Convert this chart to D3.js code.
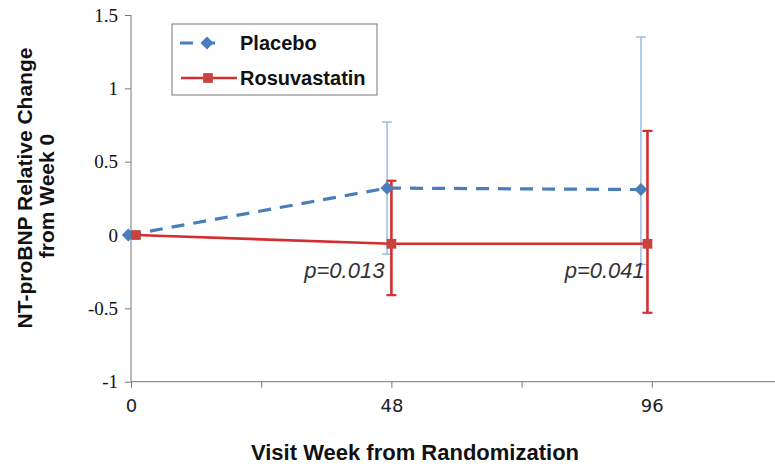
<!DOCTYPE html>
<html>
<head>
<meta charset="utf-8">
<script src="https://cdn.jsdelivr.net/npm/d3@7"></script>
<style>
  html, body { margin: 0; padding: 0; background: #fff; }
  svg { display: block; }
</style>
</head>
<body>
<svg id="chart" width="775" height="468"></svg>
<script>
// ---- data ----
const seriesNames = ["Placebo", "Rosuvastatin"];
const placeboWeeks = [-0.5, 47.2, 94.0];
const placeboMean = [0, 0.32, 0.31];
const placeboUpper = [0, 0.77, 1.35];
const placeboLower = [0, -0.13, -0.20];
const rosuWeeks = [0.9, 48.0, 95.2];
const rosuMean = [0, -0.06, -0.06];
const rosuUpper = [0, 0.37, 0.71];
const rosuLower = [0, -0.41, -0.53];
const xTickValues = [0, 24, 48, 72, 96, 120];
const xTickLabels = ["0", "", "48", "", "96", ""];
const yTickValues = [-1, -0.5, 0, 0.5, 1, 1.5];
const yTickLabels = ["-1", "-0.5", "0", "0.5", "1", "1.5"];
const pLabels = ["p=0.013", "p=0.041"];
const pWeeks = [48, 96];

const blue = "#4a7ebb", blueErr = "#8db3e2", red = "#d2302f";

const svg = d3.select("#chart");
const x = d3.scaleLinear().domain([0, 120]).range([131, 782]);
const y = d3.scaleLinear().domain([-1, 1.5]).range([381.7, 15]);

// axes
const xAxis = d3.axisBottom(x).tickValues(xTickValues).tickSize(6)
  .tickFormat((d, i) => xTickLabels[i]);
const gx = svg.append("g").attr("transform", `translate(0,${y(-1)})`).call(xAxis);
gx.select(".domain").attr("stroke", "#777").attr("d", `M${x(0)},0H${x(120)}`);
gx.selectAll(".tick line").attr("stroke", "#777");
gx.selectAll(".tick text").attr("font-family", "'DejaVu Sans', sans-serif")
  .attr("font-size", 18).attr("fill", "#222").attr("dy", "1.2em");

const yAxis = d3.axisLeft(y).tickValues(yTickValues).tickSize(6)
  .tickFormat((d, i) => yTickLabels[i]);
const gy = svg.append("g").attr("transform", `translate(${x(0)},0)`).call(yAxis);
gy.select(".domain").attr("stroke", "#777").attr("d", `M0,${y(1.5)}V${y(-1)}`);
gy.selectAll(".tick line").attr("stroke", "#777");
gy.selectAll(".tick text").attr("font-family", "'Liberation Serif', serif")
  .attr("font-size", 19).attr("fill", "#111").attr("x", -13);

const placebo = placeboWeeks.map((w, i) => ({w, m: placeboMean[i], u: placeboUpper[i], l: placeboLower[i]}));
const rosu = rosuWeeks.map((w, i) => ({w, m: rosuMean[i], u: rosuUpper[i], l: rosuLower[i]}));

const line = d3.line().x(d => x(d.w)).y(d => y(d.m));

// placebo error bars
const pe = svg.append("g");
placebo.filter(d => d.u !== d.l).forEach(d => {
  pe.append("line").attr("x1", x(d.w)).attr("x2", x(d.w)).attr("y1", y(d.u)).attr("y2", y(d.l))
    .attr("stroke", blueErr).attr("stroke-width", 1.3);
  [d.u, d.l].forEach(v => pe.append("line").attr("x1", x(d.w) - 5).attr("x2", x(d.w) + 5)
    .attr("y1", y(v)).attr("y2", y(v)).attr("stroke", blueErr).attr("stroke-width", 1.3));
});

svg.append("path").datum(placebo).attr("d", line).attr("fill", "none")
  .attr("stroke", blue).attr("stroke-width", 3.2).attr("stroke-dasharray", "13,9");

svg.append("path").datum(rosu).attr("d", line).attr("fill", "none")
  .attr("stroke", red).attr("stroke-width", 2.6);

const re = svg.append("g");
rosu.filter(d => d.u !== d.l).forEach(d => {
  re.append("line").attr("x1", x(d.w)).attr("x2", x(d.w)).attr("y1", y(d.u)).attr("y2", y(d.l))
    .attr("stroke", red).attr("stroke-width", 2.6);
  [d.u, d.l].forEach(v => re.append("line").attr("x1", x(d.w) - 5).attr("x2", x(d.w) + 5)
    .attr("y1", y(v)).attr("y2", y(v)).attr("stroke", red).attr("stroke-width", 2.2));
});

const diamond = d3.symbol().type(d3.symbolDiamond2).size(110);
svg.append("g").selectAll("path").data(placebo).join("path")
  .attr("d", diamond).attr("transform", d => `translate(${x(d.w)},${y(d.m)})`)
  .attr("fill", blue);

const square = d3.symbol().type(d3.symbolSquare).size(95);
svg.append("g").selectAll("path").data(rosu).join("path")
  .attr("d", square).attr("transform", d => `translate(${x(d.w)},${y(d.m)})`)
  .attr("fill", "#c8423f");

// p-values
svg.append("g").selectAll("text").data(pLabels).join("text")
  .attr("x", (d, i) => x(pWeeks[i]) - 7).attr("y", 278)
  .attr("text-anchor", "end").attr("font-family", "'Liberation Sans', Arial, sans-serif")
  .attr("font-style", "italic").attr("font-size", 22).attr("fill", "#333")
  .text(d => d);

// legend
const lg = svg.append("g");
lg.append("rect").attr("x", 172).attr("y", 24).attr("width", 205).attr("height", 71)
  .attr("fill", "#fff").attr("stroke", "#777").attr("stroke-width", 1);
lg.append("line").attr("x1", 180).attr("x2", 224).attr("y1", 43).attr("y2", 43)
  .attr("stroke", blue).attr("stroke-width", 3.2).attr("stroke-dasharray", "13,9");
lg.append("path").attr("d", diamond).attr("transform", "translate(207,43)").attr("fill", blue);
lg.append("line").attr("x1", 181).attr("x2", 237).attr("y1", 78).attr("y2", 78)
  .attr("stroke", red).attr("stroke-width", 2.6);
lg.append("path").attr("d", square).attr("transform", "translate(208,78)").attr("fill", "#c8423f");
lg.selectAll("text").data(seriesNames).join("text")
  .attr("x", 240).attr("y", (d, i) => i === 0 ? 50 : 85)
  .attr("font-family", "'Liberation Sans', Arial, sans-serif").attr("font-weight", "bold")
  .attr("font-size", 20).attr("fill", "#111").text(d => d);

// axis titles
svg.append("text").attr("x", 415).attr("y", 460).attr("text-anchor", "middle")
  .attr("font-family", "'Liberation Sans', Arial, sans-serif").attr("font-weight", "bold")
  .attr("font-size", 22).attr("fill", "#111").text("Visit Week from Randomization");

const yt = svg.append("text").attr("transform", "rotate(-90)")
  .attr("text-anchor", "middle").attr("font-family", "'Liberation Sans', Arial, sans-serif")
  .attr("font-weight", "bold").attr("font-size", 21).attr("fill", "#111");
yt.append("tspan").attr("x", -188).attr("y", 32).text("NT-proBNP Relative Change");
yt.append("tspan").attr("x", -196).attr("y", 54).text("from Week 0");
</script>
</body>
</html>
